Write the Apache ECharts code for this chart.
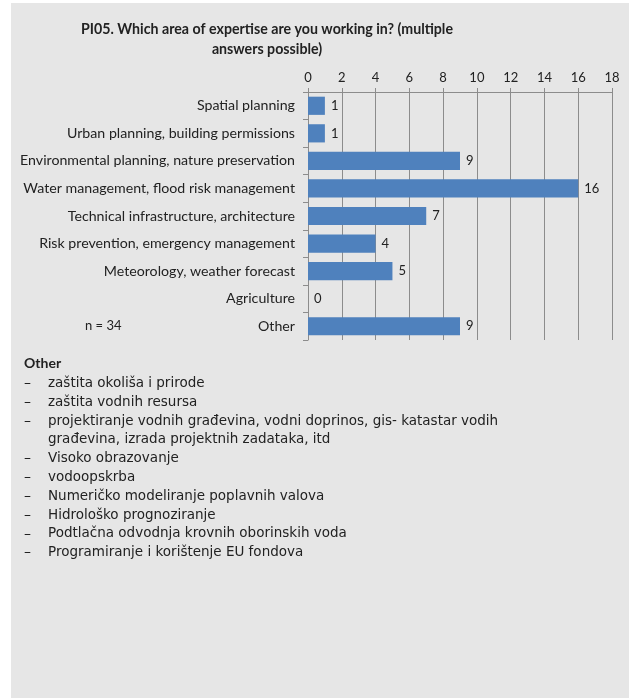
<!DOCTYPE html>
<html>
<head>
<meta charset="utf-8">
<script src="https://cdn.jsdelivr.net/npm/echarts@6/dist/echarts.min.js"></script>
<style>
  html, body { margin: 0; padding: 0; background: #ffffff; }
  #panel { position: absolute; left: 11px; top: 3px; width: 618px; height: 695px; background: #e6e6e6; }
  #chart { position: absolute; left: 0; top: 0; width: 629px; height: 698px; }
</style>
</head>
<body>
<div id="panel"></div>
<div id="chart"></div>
<script>
// Survey question PI05: respondents' areas of expertise (multiple answers)
const titleText = 'PI05. Which area of expertise are you working in? (multiple\nanswers possible)';
const categories = [
  'Spatial planning',
  'Urban planning, building permissions',
  'Environmental planning, nature preservation',
  'Water management, flood risk management',
  'Technical infrastructure, architecture',
  'Risk prevention, emergency management',
  'Meteorology, weather forecast',
  'Agriculture',
  'Other'
];
const counts = [1, 1, 9, 16, 7, 4, 5, 0, 9];
const axisMin = 0;
const axisMax = 18;
const axisStep = 2;
const sampleNote = 'n = 34';
const otherHeading = 'Other';
const otherAnswers = [
  'zaštita okoliša i prirode',
  'zaštita vodnih resursa',
  'projektiranje vodnih građevina, vodni doprinos, gis- katastar vodih\ngrađevina, izrada projektnih zadataka, itd',
  'Visoko obrazovanje',
  'vodoopskrba',
  'Numeričko modeliranje poplavnih valova',
  'Hidrološko prognoziranje',
  'Podtlačna odvodnja krovnih oborinskih voda',
  'Programiranje i korištenje EU fondova'
];

const labelFont = 'Lato, "Open Sans", sans-serif';
const listFont = '"DejaVu Sans", Verdana, sans-serif';
const textColor = '#222222';
const gridColor = '#8c8c8c';

// Bulleted list of the free-text "Other" answers below the chart
const listGraphics = [];
listGraphics.push({
  type: 'text', left: 24, top: 356,
  style: { text: otherHeading, fontFamily: labelFont, fontWeight: 'bold', fontSize: 14, fill: textColor }
});
let lineY = 374;
const lineStep = 18.8;
otherAnswers.forEach(function (item) {
  listGraphics.push({
    type: 'text', left: 24, top: lineY + 2.5,
    style: { text: '–', fontFamily: listFont, fontSize: 14, fill: textColor }
  });
  listGraphics.push({
    type: 'text', left: 48, top: lineY,
    style: { text: item, fontFamily: listFont, fontSize: 13.5, fill: textColor, lineHeight: lineStep }
  });
  lineY += lineStep * item.split('\n').length;
});

const chart = echarts.init(document.getElementById('chart'), null, { renderer: 'canvas' });
chart.setOption({
  backgroundColor: 'transparent',
  animation: false,
  title: {
    text: titleText,
    left: 262,
    textAlign: 'center',
    top: 14,
    textStyle: { fontFamily: labelFont, fontWeight: 'bold', fontSize: 14.2, color: textColor, lineHeight: 20 }
  },
  grid: { left: 308, right: 17, top: 92, height: 248, containLabel: false },
  xAxis: {
    type: 'value',
    position: 'top',
    min: axisMin, max: axisMax, interval: axisStep,
    axisLine: { show: true, lineStyle: { color: gridColor } },
    axisTick: { show: true, length: 4, lineStyle: { color: gridColor } },
    axisLabel: { color: textColor, fontFamily: labelFont, fontSize: 13, margin: 8 },
    splitLine: { show: true, lineStyle: { color: gridColor, width: 1 } }
  },
  yAxis: {
    type: 'category',
    data: categories,
    inverse: true,
    axisLine: { show: true, lineStyle: { color: gridColor } },
    axisTick: { show: true, length: 5, alignWithLabel: false, lineStyle: { color: gridColor } },
    axisLabel: { color: textColor, fontFamily: labelFont, fontSize: 14.2, margin: 13 },
    splitLine: { show: false }
  },
  series: [{
    type: 'bar',
    data: counts,
    barCategoryGap: '34%',
    itemStyle: { color: '#4f81bd' },
    label: {
      show: true, position: 'right', distance: 6,
      color: textColor, fontFamily: labelFont, fontSize: 13
    }
  }],
  graphic: [{
    type: 'text', left: 85, top: 319,
    style: { text: sampleNote, fontFamily: labelFont, fontSize: 13, fill: textColor }
  }].concat(listGraphics)
});
</script>
</body>
</html>
